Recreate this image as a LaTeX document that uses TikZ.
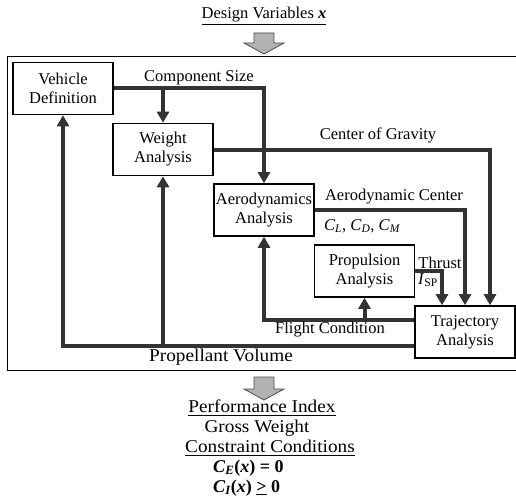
\documentclass[tikz,border=0pt]{standalone}
\usepackage{amsmath}
\usepackage{fontspec}
\setmainfont{Liberation Serif}
\newfontfamily\widefont[FakeStretch=1.07]{Liberation Serif}
\usetikzlibrary{arrows.meta}

\begin{document}
\begin{tikzpicture}[
      x=1pt, y=-1pt,
      box/.style={draw, line width=1.6pt, inner sep=0pt,
        minimum width=100pt, minimum height=52pt, align=center,
        font=\fontsize{16.5}{19}\selectfont},
      flow/.style={line width=4pt, draw=black!80, line join=miter,
        -{Triangle[width=12pt,length=11pt]}},
      lbl/.style={inner sep=0pt, font=\fontsize{16.5}{19}\selectfont},
      wide/.style={inner sep=0pt, font=\widefont\fontsize{18}{21}\selectfont},
      blockarrow/.style={draw=black!70, fill=black!30, line width=0.8pt}
    ]
    \useasboundingbox (0,0) rectangle (516,500);

    % outer frame
    \draw[line width=1pt] (7,57) rectangle (517,370);

    % analyses
    \node[box] (veh)  at (63,88.5)  {Vehicle\\Definition};
    \node[box] (wgt)  at (163,149.5) {Weight\\Analysis};
    \node[box] (aero) at (264,210)  {Aerodynamics\\Analysis};
    \node[box] (prop) at (364.5,271) {Propulsion\\Analysis};
    \node[box] (traj) at (465,332)  {Trajectory\\Analysis};

    % feed-forward
    \draw[flow] (veh.east) -| (aero.north);
    \coordinate (cs) at (wgt.north |- veh.east);
    \draw[flow] (cs) -- (wgt.north);
    \draw[flow] (wgt.east) -| ([xshift=25pt]traj.north);
    \draw[flow] (aero.east) -| (traj.north);
    \draw[flow] (prop.east) -| ([xshift=-23pt]traj.north);

    % feedback
    \coordinate (fcstart) at ([yshift=12pt]traj.west);
    \draw[flow] (fcstart) -| (aero.south);
    \coordinate (fc) at (prop.south |- fcstart);
    \draw[flow] (fc) -- (prop.south);
    \coordinate (pvstart) at ([yshift=-14pt]traj.west);
    \draw[flow] (pvstart) -| (veh.south);
    \coordinate (pv) at (wgt.south |- pvstart);
    \draw[flow] (pv) -- (wgt.south);

    % connector labels
    \node[lbl] (lcs)  at (199,78)  {Component Size};
    \node[lbl] (lcg)  at (378,135) {Center of Gravity};
    \node[lbl] (lac)  at (394,197) {Aerodynamic Center};
    \node[lbl] (lcoef) at (362,226)
      {\textit{C}$_{\textit{L}}$, \textit{C}$_{\textit{D}}$, \textit{C}$_{\textit{M}}$};
    \node[lbl] (lthr) at (440,263) {Thrust};
    \node[lbl, anchor=west] (lisp) at (418,280) {\textit{I}$_{\text{SP}}$};
    \node[lbl] (lfc)  at (330,330) {Flight Condition};
    \node[wide] (lpv) at (221,357) {Propellant Volume};

    % inputs and outputs
    \node[lbl] (dv) at (264,16) {\underline{Design Variables \textbf{\textit{x}}}};
    \filldraw[blockarrow] (254,33) -- (274,33) -- (274,43) -- (284,43)
      -- (264,54) -- (244,43) -- (254,43) -- cycle;
    \filldraw[blockarrow] (254,377) -- (274,377) -- (274,389) -- (284,389)
      -- (264,400) -- (244,389) -- (254,389) -- cycle;
    \node[wide] (pi) at (262,408) {\underline{Performance Index}};
    \node[wide] (gw) at (257,428) {Gross Weight};
    \node[wide] (cc) at (270,448) {\underline{Constraint Conditions}};
    \node[wide, anchor=west, font=\fontsize{18}{21}\selectfont\bfseries] (ce) at (213,468)
      {\textit{C}$_{\textit{E}}$(\textit{x}) = 0};
    \node[wide, anchor=west, font=\fontsize{18}{21}\selectfont\bfseries] (ci) at (213,488)
      {\textit{C}$_{\textit{I}}$(\textit{x}) \underline{>} 0};

\end{tikzpicture}
\end{document}
